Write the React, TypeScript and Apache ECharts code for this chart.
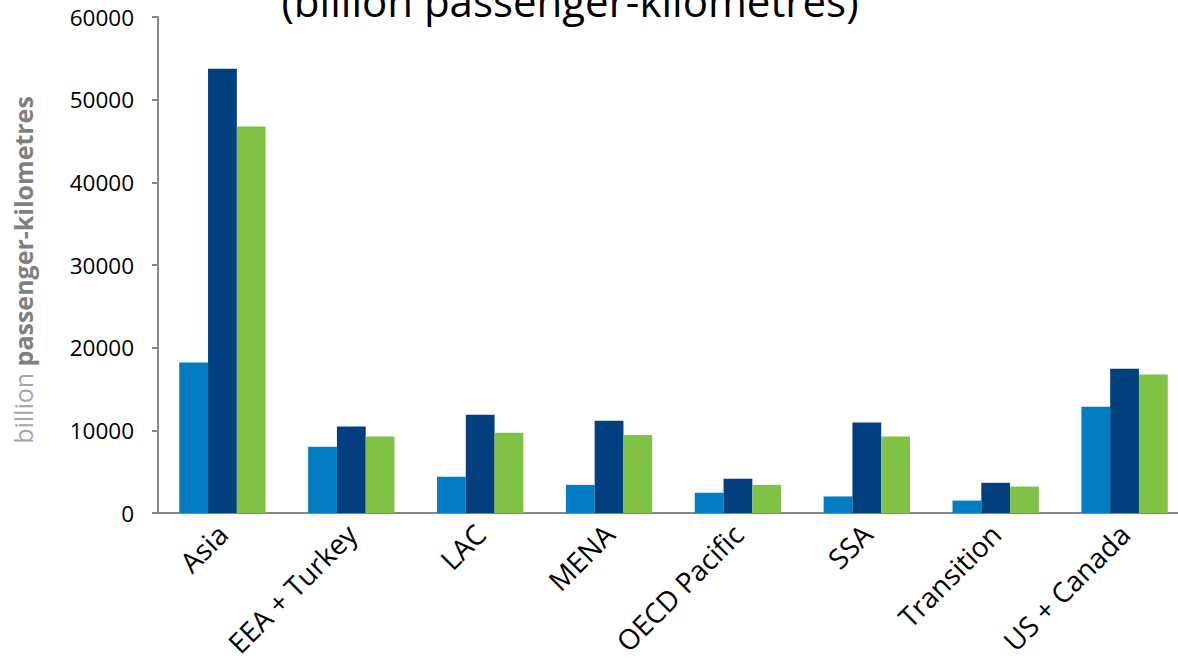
import React, { useEffect, useRef } from "react";
import * as echarts from "echarts";

const categories = ["Asia", "EEA + Turkey", "LAC", "MENA", "OECD Pacific", "SSA", "Transition", "US + Canada"];
const seriesA = [18200, 8000, 4400, 3400, 2450, 2000, 1500, 12850];
const seriesB = [53750, 10450, 11900, 11150, 4150, 10950, 3650, 17450];
const seriesC = [46750, 9250, 9700, 9450, 3400, 9250, 3200, 16750];
const yTicks = { min: 0, max: 60000, interval: 10000 };

const FONT = "'Open Sans', 'DejaVu Sans', sans-serif";

export default function App() {
  const ref = useRef<HTMLDivElement>(null);
  useEffect(() => {
    document.body.style.margin = "0";
    const chart = echarts.init(ref.current!, null, { renderer: "svg" });
    const axisColor = "#878787";
    chart.setOption({
      animation: false,
      backgroundColor: "#ffffff",
      textStyle: { fontFamily: FONT },
      grid: { left: 158, top: 17, width: 1031, height: 496, containLabel: false },
      xAxis: {
        type: "category",
        data: categories,
        axisLine: { show: true, lineStyle: { color: axisColor, width: 2 } },
        axisTick: { show: false },
        axisLabel: { rotate: 45, margin: 16, fontSize: 28, color: "#000000", fontFamily: FONT, interval: 0 },
      },
      yAxis: {
        type: "value",
        min: yTicks.min,
        max: yTicks.max,
        interval: yTicks.interval,
        axisLine: { show: true, lineStyle: { color: axisColor, width: 2 } },
        axisTick: { show: true, length: 6, inside: false, lineStyle: { color: axisColor, width: 2 } },
        splitLine: { show: false },
        axisLabel: { margin: 24, fontSize: 22.5, color: "#000000", fontFamily: FONT, formatter: (v: number) => String(v) },
      },
      series: [
        { type: "bar", data: seriesA, itemStyle: { color: "#027CC2" }, barGap: "0%", barCategoryGap: "33%" },
        { type: "bar", data: seriesB, itemStyle: { color: "#013F7E" }, barGap: "0%", barCategoryGap: "33%" },
        { type: "bar", data: seriesC, itemStyle: { color: "#7FC246" }, barGap: "0%", barCategoryGap: "33%" },
      ],
      graphic: [
        {
          type: "text",
          x: 570,
          y: 21,
          style: {
            text: "(billion passenger-kilometres)",
            fontSize: 42,
            fontFamily: FONT,
            fill: "#000000",
            align: "center",
            verticalAlign: "bottom",
          },
        },
        {
          type: "text",
          x: 23,
          y: 270,
          rotation: Math.PI / 2,
          style: {
            text: "{a|billion }{b|passenger-kilometres}",
            align: "center",
            verticalAlign: "middle",
            rich: {
              a: { fontSize: 25, fontFamily: FONT, fill: "#A6A6A6", fontWeight: "normal" },
              b: { fontSize: 25, fontFamily: FONT, fill: "#7F7F7F", fontWeight: "bold" },
            },
          },
        },
      ],
    });
    return () => chart.dispose();
  }, []);
  return (
    <div style={{ width: 1178, height: 663, overflow: "hidden", position: "relative" }}>
      <div ref={ref} style={{ width: 1200, height: 663 }} />
    </div>
  );
}
